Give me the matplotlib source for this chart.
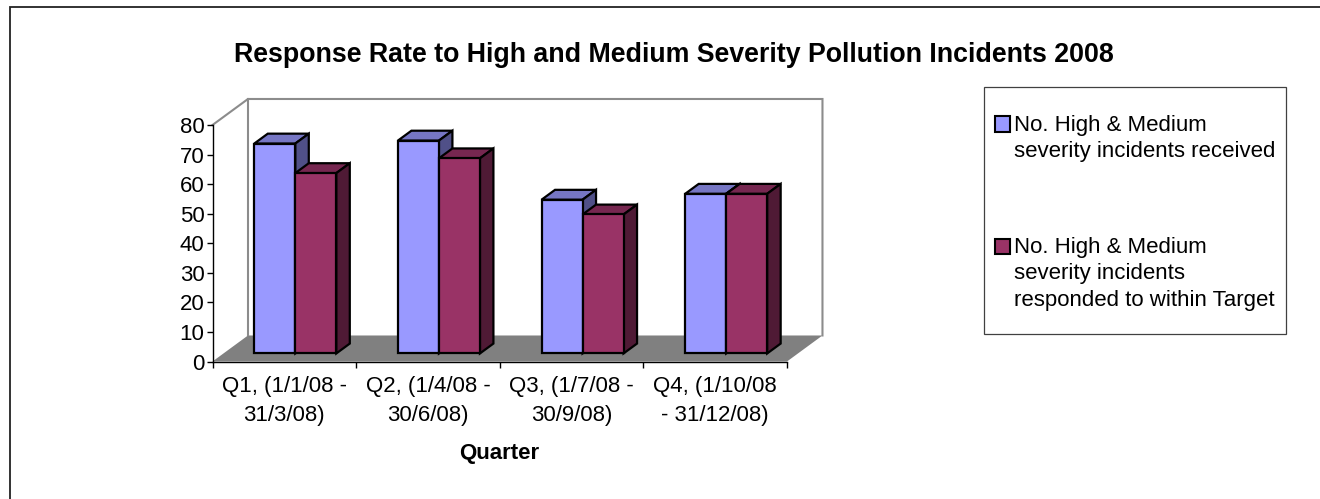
import matplotlib
matplotlib.use('Agg')
import matplotlib.pyplot as plt
from matplotlib.lines import Line2D
from matplotlib.patches import Polygon, Rectangle

plt.rcParams['font.family'] = ['Liberation Sans', 'DejaVu Sans']

quarters = ['Q1, (1/1/08 -\n31/3/08)', 'Q2, (1/4/08 -\n30/6/08)',
            'Q3, (1/7/08 -\n30/9/08)', 'Q4, (1/10/08\n- 31/12/08)']
received = [71, 72, 52, 54]
within_target = [61, 66, 47, 54]
y_ticks = [0, 10, 20, 30, 40, 50, 60, 70, 80]
legend_labels = ['No. High & Medium\nseverity incidents received',
                 'No. High & Medium\nseverity incidents\nresponded to within Target']

W, H = 1320, 499
DEPTH_X = 0.247   # wall offset, in category units
DEPTH_Y = 8.8     # wall offset, in value units
BAR_W = 0.2855
BLUE = ('#9999FF', '#7676C4', '#505088')
RED = ('#993366', '#762750', '#4F1A35')


def sheared(x, y, d):
    """oblique projection: d=0 front plane, d=1 back wall"""
    return (x + d * DEPTH_X, y + d * DEPTH_Y)


def draw_bar(ax, left, value, colors):
    d0, d1 = 0.31, 0.69
    right = left + BAR_W
    edge = dict(edgecolor='black', linewidth=1.6, joinstyle='miter', clip_on=False)
    ax.add_patch(Polygon([sheared(left, value, d0), sheared(right, value, d0),
                          sheared(right, value, d1), sheared(left, value, d1)],
                         facecolor=colors[1], **edge))
    ax.add_patch(Polygon([sheared(right, 0, d0), sheared(right, 0, d1),
                          sheared(right, value, d1), sheared(right, value, d0)],
                         facecolor=colors[2], **edge))
    ax.add_patch(Polygon([sheared(left, 0, d0), sheared(right, 0, d0),
                          sheared(right, value, d0), sheared(left, value, d0)],
                         facecolor=colors[0], **edge))


fig = plt.figure(figsize=(W / 100, H / 100), dpi=100)

# only the top and left of the chart frame are inside the picture
fig.add_artist(Line2D([10 / W, 10 / W, 1], [0, 1 - 6.5 / H, 1 - 6.5 / H], color='#222222', lw=1.3,
                      solid_joinstyle='miter'))

# axes covers the front plane of the chart
ax = fig.add_axes([212.5 / W, 1 - 361.5 / H, 574.5 / W, 236.5 / H], zorder=3)
ax.set_xlim(0, 4)
ax.set_ylim(0, 80)
ax.patch.set_visible(False)
for s in ['top', 'right']:
    ax.spines[s].set_visible(False)
for s in ['left', 'bottom']:
    ax.spines[s].set_linewidth(1.0)
    ax.spines[s].set_zorder(5)

# floor and walls
ax.add_patch(Polygon([sheared(0, 0, 0), sheared(4, 0, 0), sheared(4, 0, 1), sheared(0, 0, 1)],
                     facecolor='#808080', edgecolor='none', clip_on=False, zorder=0.5))
wall = [sheared(0, 80, 0), sheared(0, 80, 1), sheared(4, 80, 1), sheared(4, 0, 1)]
ax.plot([p[0] for p in wall], [p[1] for p in wall], color='#8c8c8c', lw=1.5, clip_on=False, zorder=0.6,
        solid_joinstyle='miter')
ax.plot(*zip(sheared(0, 0, 1), sheared(0, 80, 1)), color='#8c8c8c', lw=1.5, clip_on=False, zorder=0.6)

for i in range(4):
    start = i + (1 - 2 * BAR_W) / 2
    draw_bar(ax, start, received[i], BLUE)
    draw_bar(ax, start + BAR_W, within_target[i], RED)

ax.set_yticks(y_ticks)
ax.set_xticks([0, 1, 2, 3, 4])
ax.set_xticklabels([])
ax.tick_params(axis='both', length=4, width=1.0, color='black')
ax.tick_params(axis='y', labelsize=16, pad=1.8)
for i, q in enumerate(quarters):
    ax.annotate(q, (i + 0.5, 0), xytext=(0, -10.5), textcoords='offset points', ha='center', va='top',
                fontsize=16, linespacing=1.47, annotation_clip=False)

fig.text(674 / W, 1 - 55 / H, 'Response Rate to High and Medium Severity Pollution Incidents 2008',
         ha='center', va='center', fontsize=19.3, fontweight='bold')
fig.text(499.5 / W, 1 - 454 / H, 'Quarter', ha='center', va='center', fontsize=16, fontweight='bold')

# legend box
fig.patches.append(Rectangle((983.5 / W, 1 - 334 / H), 302 / W, 247 / H, transform=fig.transFigure,
                             facecolor='white', edgecolor='#404040', linewidth=0.9))
swatch_y = [124, 246.5]
label_y = [138.5, 274]
for label, color, sy, ly in zip(legend_labels, [BLUE[0], RED[0]], swatch_y, label_y):
    fig.patches.append(Rectangle((994.5 / W, 1 - (sy + 7.5) / H), 15 / W, 15 / H, transform=fig.transFigure,
                                 facecolor=color, edgecolor='black', linewidth=1.5))
    fig.text(1014 / W, 1 - ly / H, label, ha='left', va='center', fontsize=16, linespacing=1.32)

fig.savefig('out.png', dpi=100)
